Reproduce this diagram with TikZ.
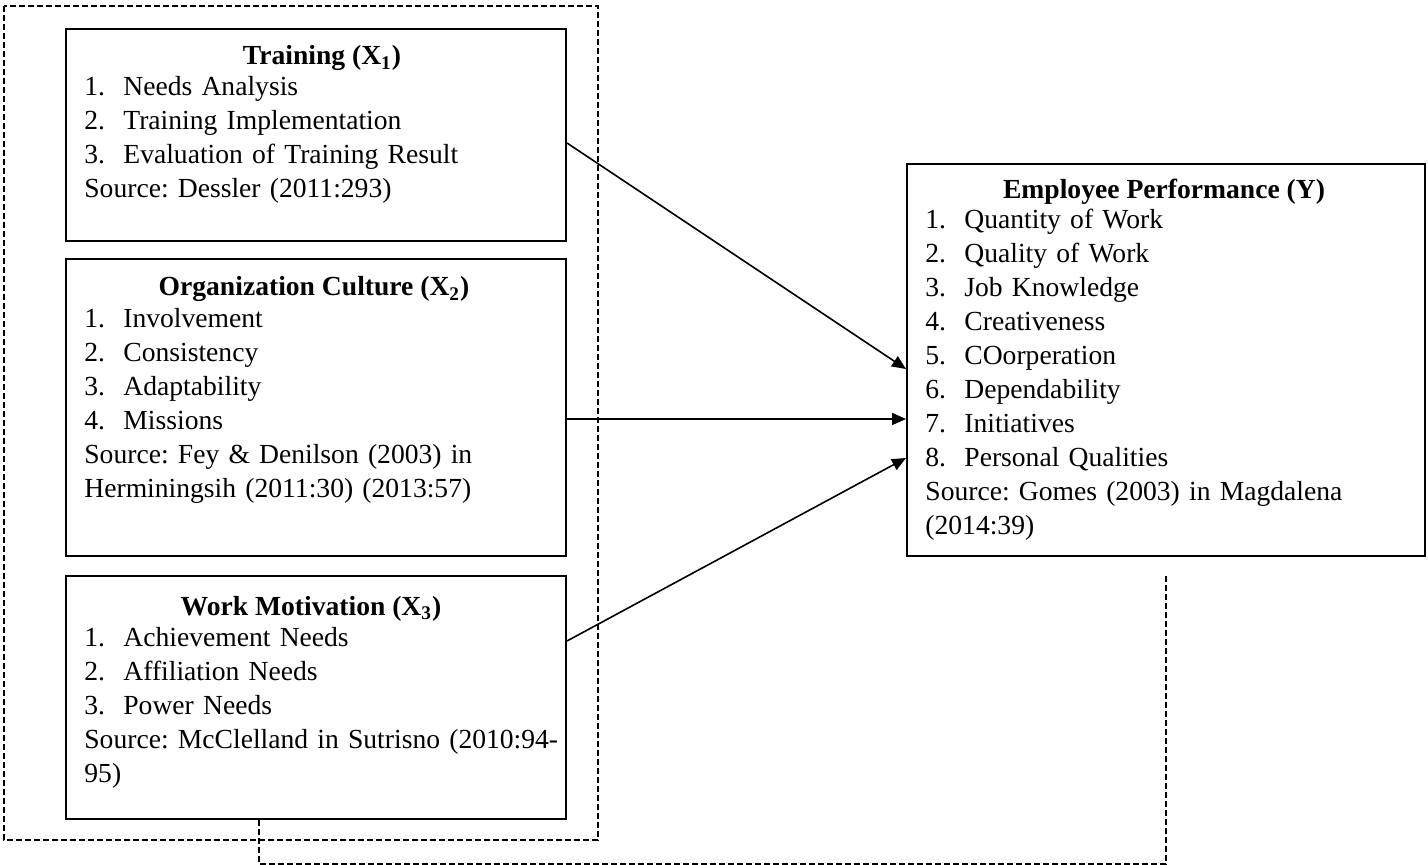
\documentclass[tikz,border=0pt]{standalone}
\usepackage{fontspec}
\setmainfont{Liberation Serif}
\usetikzlibrary{arrows.meta}
\frenchspacing
\def\itm#1#2{\makebox[19.5pt][l]{#1.}#2}
\tikzset{
	box/.style={draw, line width=1pt, anchor=north west, minimum width=250pt, inner sep=0pt},
	ttl/.style={anchor=base, inner sep=0pt, font=\fontsize{13.8}{17}\selectfont\bfseries},
	lst/.style={anchor=base west, inner sep=0pt, text width=300pt, align=left, font=\fontsize{13.8}{17}\selectfont},
	arr/.style={line width=0.8pt, -{Triangle[length=7pt,width=6pt]}},
	dashline/.style={line width=0.6pt, dash pattern=on 3pt off 1.5pt}
}

\begin{document}
\begin{tikzpicture}[x=0.5pt, y=-0.5pt]
			%%%%% START %%%%%
			\useasboundingbox (0, 0) rectangle (1428, 865);
			
			\draw[dashline] (4, 6) rectangle (598, 840);
			
			\node[box, minimum height=106pt] (train) at (65, 28) {};
			\node[ttl] (trainT) at (322, 65) {Training (X\textsubscript{1})};
			\node[lst] (trainL) at (84, 96) {\itm{1}{Needs Analysis}\\ \itm{2}{Training Implementation}\\ \itm{3}{Evaluation of Training Result}\\ Source: Dessler (2011:293)};
			
			\node[box, minimum height=148.5pt] (culture) at (65, 258) {};
			\node[ttl] (cultureT) at (314, 296) {Organization Culture (X\textsubscript{2})};
			\node[lst] (cultureL) at (84, 328) {\itm{1}{Involvement}\\ \itm{2}{Consistency}\\ \itm{3}{Adaptability}\\ \itm{4}{Missions}\\ Source: Fey \& Denilson (2003) in\\ Herminingsih (2011:30) (2013:57)};
			
			\node[box, minimum height=121.5pt] (motiv) at (65, 575) {};
			\node[ttl] (motivT) at (311, 615) {Work Motivation (X\textsubscript{3})};
			\node[lst] (motivL) at (84, 646) {\itm{1}{Achievement Needs}\\ \itm{2}{Affiliation Needs}\\ \itm{3}{Power Needs}\\ Source: McClelland in Sutrisno (2010:94-\\ 95)};
			
			\node[box, minimum width=259pt, minimum height=196pt] (perf) at (906, 163) {};
			\node[ttl] (perfT) at (1164, 199) {Employee Performance (Y)};
			\node[lst] (perfL) at (925, 229) {\itm{1}{Quantity of Work}\\ \itm{2}{Quality of Work}\\ \itm{3}{Job Knowledge}\\ \itm{4}{Creativeness}\\ \itm{5}{COorperation}\\ \itm{6}{Dependability}\\ \itm{7}{Initiatives}\\ \itm{8}{Personal Qualities}\\ Source: Gomes (2003) in Magdalena\\ (2014:39)};
			
			\draw[arr] ([yshift=-4pt]train.east) -- ([yshift=-4.5pt]perf.west);
			\draw[arr] ([yshift=-5.75pt]culture.east) -- ([yshift=-29.5pt]perf.west);
			\draw[arr] ([yshift=28.25pt]motiv.east) -- ([yshift=-49pt]perf.west);
			
			\draw[dashline] ([xshift=-28.5pt]motiv.south) -- ++(0, 44) -| ([yshift=-8.5pt]perf.south);
			%%%%% END %%%%%
\end{tikzpicture}
\end{document}
